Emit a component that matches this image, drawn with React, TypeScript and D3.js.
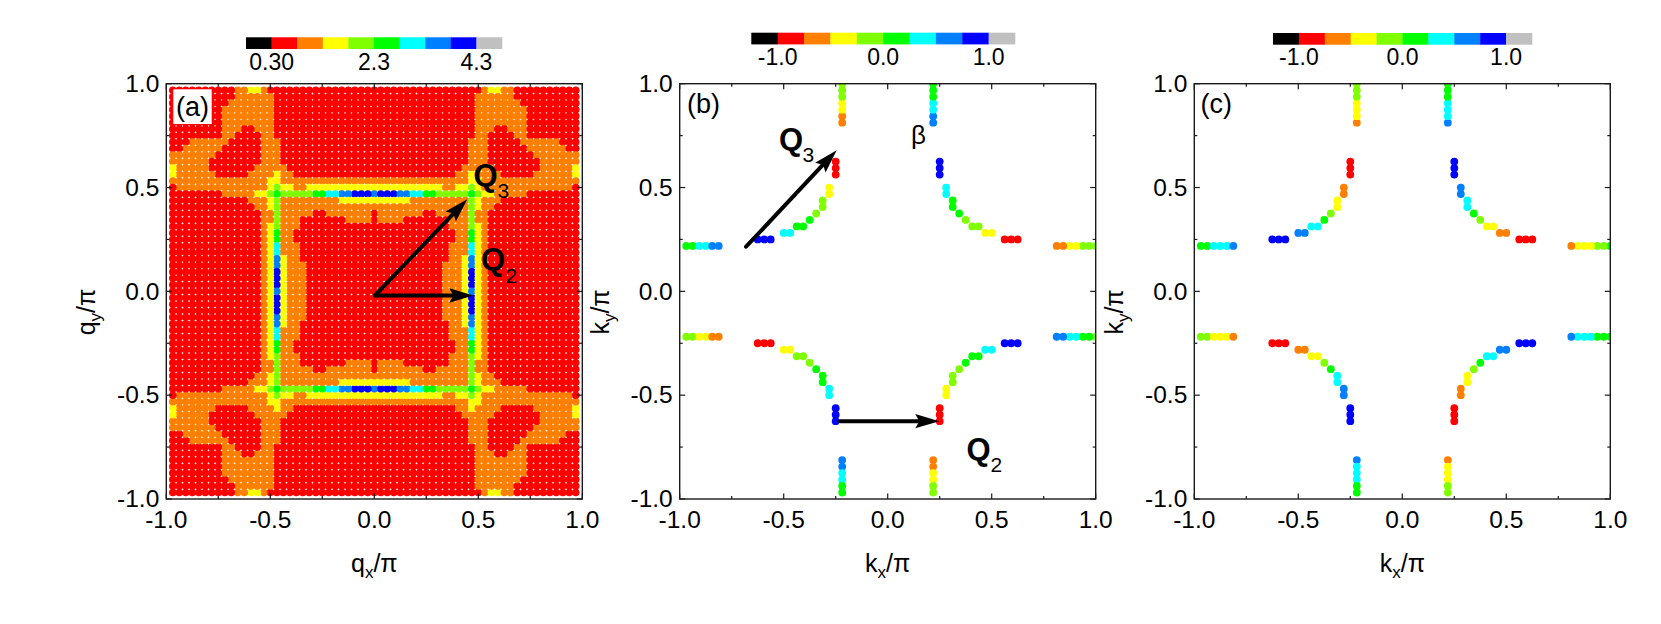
import React from "react";
import * as d3 from "d3";

// ---------- data ----------
const levelColors: Record<string, string> = {
  K: "#000000", R: "#ff0000", O: "#ff8000", Y: "#ffff00", L: "#80ff00",
  G: "#00ff00", C: "#00ffff", A: "#0080ff", B: "#0000ff", S: "#c0c0c0",
};
const colorbarLevels = ["K", "R", "O", "Y", "L", "G", "C", "A", "B", "S"];
const latticeStep = 32;

// Panel (a): quadrant q_y row from index 31 down to 0, each run = level + count along q_x index 0..31.
const susceptibilityRows = [
  "R17 O1 Y2 O2 R10",
  "R16 O6 R10",
  "R16 O7 R9",
  "R16 O8 R8",
  "R16 O8 R8",
  "R16 O8 R8",
  "R16 O3 R2 O3 R8",
  "R16 O2 R4 O2 R8",
  "R15 O3 R5 O6 R3",
  "R15 O3 R6 O6 R2",
  "R15 O3 R7 O7",
  "R15 O3 R8 O6",
  "R14 O5 R7 O5 Y1",
  "R13 O2 Y1 O4 R5 O6 Y1",
  "O15 Y2 O15",
  "Y11 O2 Y2 L1 Y1 O14 R1",
  "A1 B3 A2 C2 G2 L5 G1 L1 Y2 O5 R8",
  "Y6 O9 L1 Y1 O3 R12",
  "O15 L1 Y1 O2 R13",
  "R1 O7 R2 O5 L1 O2 R14",
  "R1 O4 R7 O3 L1 O2 R14",
  "R12 O3 L1 Y1 O1 R14",
  "R13 O2 G1 Y1 O1 R14",
  "R13 O2 G1 Y1 O1 R14",
  "R12 O3 C1 Y1 O1 R14",
  "R12 O3 C1 Y1 O1 R14",
  "R12 O2 Y1 A1 Y1 O1 R14",
  "R11 O3 Y1 A1 Y1 O1 R14",
  "R11 O3 Y1 B1 Y1 O1 R14",
  "R11 O3 Y1 B1 Y1 O1 R14",
  "R11 O3 Y1 B1 Y1 O1 R14",
  "R11 O3 Y1 A1 Y1 O1 R14",
];

// Fermi-surface lattice indices of one quadrant (|kx|, |ky|)
const fermiKx = [32,31,30,29,28,27,26,20,19,18,16,15,14,13,12,11,10,10,9,9,8,8,8,7,7,7,7,7,7,7];
const fermiKy = [7,7,7,7,7,7,7,8,8,8,9,9,10,10,11,12,13,14,15,16,18,19,20,26,27,28,29,30,31,32];

// Level of each point, by quadrant ("-" = no point)
const panelBUpperRight = "LLLYYOORRRYYLLLGGGCCBBBAACCGGG";
const panelBUpperLeft  = "-GGCCAABBBCCGGGLLLYYRRROOYYLLL";
const panelBLowerLeft  = "-LLYYOORRRYYLLLGGGCCBBBAACCGG-";
const panelBLowerRight = "LGGCCAABBBCCGGGLLLYYRRROOYYLL-";
const panelCUpperRight = "GLLYYYORRROOYYLGCCAABBBACCCGGG";
const panelCUpperLeft  = "-GGCCCABBBAACCGLYYOORRROYYYLLL";
const panelCLowerLeft  = "-LLYYYORRROOYYLGCCAABBBACCCGG-";
const panelCLowerRight = "GGGCCCABBBAACCGLYYOORRROYYYLL-";

const tickLabels = ["-1.0", "-0.5", "0.0", "0.5", "1.0"];
const majorTicks = [-1, -0.5, 0, 0.5, 1];
const minorTicks = [-0.75, -0.25, 0.25, 0.75];

const barLabelsA = ["0.30", "2.3", "4.3"];
const barLabelsBC = ["-1.0", "0.0", "1.0"];

const arrowsA = [
  { x0: 0.003, y0: -0.02, x1: 0.447, y1: 0.444 },
  { x0: 0.003, y0: -0.02, x1: 0.476, y1: -0.02 },
];
const arrowsB = [
  { x0: -0.681, y0: 0.215, x1: -0.245, y1: 0.68 },
  { x0: -0.229, y0: -0.625, x1: 0.248, y1: -0.625 },
];

// ---------- layout ----------
const FONT = "'Liberation Sans', Arial, sans-serif";
const TOP = 83.7, BOTTOM = 499;
const W = 416;
const panelLefts = [166.3, 679.7, 1194.3];

const y = d3.scaleLinear().domain([-1, 1]).range([BOTTOM, TOP]);
const xScale = (left: number) => d3.scaleLinear().domain([-1, 1]).range([left, left + W]);

function decodeRow(row: string): string[] {
  const out: string[] = [];
  row.split(" ").forEach((run) => {
    const n = +run.slice(1);
    for (let i = 0; i < n; i++) out.push(run[0]);
  });
  return out;
}

function Frame({ left, xLabel, yLabel }: any) {
  const x = xScale(left);
  const stroke = "#1a1a1a";
  const lines: React.ReactNode[] = [];
  const add = (t: number, len: number, key: string) => {
    lines.push(
      <line key={"b" + key} x1={x(t)} x2={x(t)} y1={BOTTOM} y2={BOTTOM - len} />,
      <line key={"t" + key} x1={x(t)} x2={x(t)} y1={TOP} y2={TOP + len} />,
      <line key={"l" + key} y1={y(t)} y2={y(t)} x1={x(-1)} x2={x(-1) + len} />,
      <line key={"r" + key} y1={y(t)} y2={y(t)} x1={x(1)} x2={x(1) - len} />
    );
  };
  majorTicks.forEach((t) => add(t, 5.5, "M" + t));
  minorTicks.forEach((t) => add(t, 3, "m" + t));
  const midX = x(0);
  return (
    <g fontFamily={FONT} fill="#000">
      <g stroke={stroke} strokeWidth={1.2}>{lines}</g>
      <rect x={x(-1)} y={TOP} width={W} height={BOTTOM - TOP} fill="none" stroke={stroke} strokeWidth={1.4} />
      {majorTicks.map((t, i) => (
        <text key={"xl" + t} x={x(t)} y={527.5} textAnchor="middle" fontSize={24.5}>{tickLabels[i]}</text>
      ))}
      {majorTicks.map((t, i) => (
        <text key={"yl" + t} x={x(-1) - 7} y={y(t) + 8.3} textAnchor="end" fontSize={24.5}>{tickLabels[i]}</text>
      ))}
      <text x={midX} y={572} textAnchor="middle" fontSize={25}>
        {xLabel}<tspan fontSize={17} dy={6}>x</tspan><tspan dy={-6}>/π</tspan>
      </text>
      <text transform={`translate(${left - 71},312) rotate(-90)`} textAnchor="middle" fontSize={25}>
        {yLabel}<tspan fontSize={17} dy={6}>y</tspan><tspan dy={-6}>/π</tspan>
      </text>
    </g>
  );
}

function Colorbar({ left, top, width, labels, baseline }: any) {
  const cell = width / colorbarLevels.length;
  const sc = d3.scaleBand<string>().domain(colorbarLevels).range([left, left + width]);
  return (
    <g fontFamily={FONT}>
      {colorbarLevels.map((l) => (
        <rect key={l} x={sc(l)} y={top} width={cell + 0.3} height={11.7} fill={levelColors[l]} />
      ))}
      {labels.map((t: string, i: number) => (
        <text key={t} x={left + cell * [1, 5, 9][i]} y={baseline} textAnchor="middle" fontSize={23}>{t}</text>
      ))}
    </g>
  );
}

function Arrow({ x, a }: any) {
  const X0 = x(a.x0), Y0 = y(a.y0), X1 = x(a.x1), Y1 = y(a.y1);
  const ang = Math.atan2(Y1 - Y0, X1 - X0);
  const L = 24, H = 7.2, N = 20;
  const px = (d: number, s: number): [number, number] => [
    X1 - d * Math.cos(ang) - s * Math.sin(ang),
    Y1 - d * Math.sin(ang) + s * Math.cos(ang),
  ];
  const head = [px(0, 0), px(L, H), px(N, 0), px(L, -H)];
  return (
    <g>
      <line x1={X0} y1={Y0} x2={px(N, 0)[0]} y2={px(N, 0)[1]} stroke="#000" strokeWidth={4} strokeLinecap="round" />
      <polygon points={head.map((p) => p.join(",")).join(" ")} fill="#000" />
    </g>
  );
}

function QLabel({ x, base, sub, subX, subBase }: any) {
  return (
    <g fontFamily={FONT}>
      <text x={x} y={base} fontSize={31} fontWeight="bold">Q</text>
      <text x={subX} y={subBase} fontSize={21}>{sub}</text>
    </g>
  );
}

function Fermi({ left, quads, clip }: any) {
  const x = xScale(left);
  const pts: { key: string; cx: number; cy: number; fill: string }[] = [];
  quads.forEach(([code, sx, sy]: [string, number, number]) => {
    fermiKx.forEach((kx, n) => {
      const lv = code[n];
      if (lv === "-") return;
      pts.push({
        key: `${sx}${sy}${n}`,
        cx: x((sx * kx) / latticeStep),
        cy: y((sy * fermiKy[n]) / latticeStep),
        fill: levelColors[lv],
      });
    });
  });
  return (
    <g clipPath={`url(#${clip})`}>
      {pts.map((p) => <circle key={p.key} cx={p.cx} cy={p.cy} r={3.9} fill={p.fill} />)}
    </g>
  );
}

export default function App() {
  const xa = xScale(panelLefts[0]);
  const xb = xScale(panelLefts[1]);
  const rows = susceptibilityRows.map(decodeRow);
  const cells: { key: string; cx: number; cy: number; fill: string }[] = [];
  rows.forEach((row, r) => {
    const j = 31 - r;
    row.forEach((lv, i) => {
      [-1, 1].forEach((sx) => {
        [-1, 1].forEach((sy) => {
          if ((sx < 0 && i === 0) || (sy < 0 && j === 0)) return;
          cells.push({
            key: `${sx}${sy}${i}${j}`,
            cx: xa((sx * i) / latticeStep),
            cy: y((sy * j) / latticeStep),
            fill: levelColors[lv],
          });
        });
      });
    });
  });
  return (
    <svg width={1661} height={624} style={{ position: "absolute", left: 0, top: 0, background: "#fff" }}>
      <defs>
        {panelLefts.map((l, i) => (
          <clipPath id={"clip" + i} key={i}><rect x={l} y={TOP} width={W} height={BOTTOM - TOP} /></clipPath>
        ))}
      </defs>

      {/* panel a */}
      <g>{cells.map((c) => <circle key={c.key} cx={c.cx} cy={c.cy} r={3.8} fill={c.fill} />)}</g>
      <Frame left={panelLefts[0]} xLabel="q" yLabel="q" />
      <Colorbar left={246} top={37.3} width={256} labels={barLabelsA} baseline={70} />
      <rect x={173.3} y={89.3} width={38.4} height={34.7} fill="#fff" />
      <text x={192.5} y={115.5} textAnchor="middle" fontFamily={FONT} fontSize={27}>(a)</text>
      {arrowsA.map((a, i) => <Arrow key={i} x={xa} a={a} />)}
      <QLabel x={473.5} base={186} sub="3" subX={497.5} subBase={197.7} />
      <QLabel x={481} base={270} sub="2" subX={505.5} subBase={282.7} />

      {/* panel b */}
      <Fermi left={panelLefts[1]} clip="clip1" quads={[
        [panelBUpperRight, 1, 1], [panelBUpperLeft, -1, 1], [panelBLowerLeft, -1, -1], [panelBLowerRight, 1, -1],
      ]} />
      <Frame left={panelLefts[1]} xLabel="k" yLabel="k" />
      <Colorbar left={751.3} top={32.7} width={263.7} labels={barLabelsBC} baseline={65} />
      <text x={687} y={113} fontFamily={FONT} fontSize={27}>(b)</text>
      {arrowsB.map((a, i) => <Arrow key={i} x={xb} a={a} />)}
      <QLabel x={779} base={150} sub="3" subX={802.5} subBase={162.3} />
      <QLabel x={966.5} base={460} sub="2" subX={990.5} subBase={471.7} />
      <text x={911} y={144} fontFamily={FONT} fontSize={26}>β</text>

      {/* panel c */}
      <Fermi left={panelLefts[2]} clip="clip2" quads={[
        [panelCUpperRight, 1, 1], [panelCUpperLeft, -1, 1], [panelCLowerLeft, -1, -1], [panelCLowerRight, 1, -1],
      ]} />
      <Frame left={panelLefts[2]} xLabel="k" yLabel="k" />
      <Colorbar left={1273} top={33} width={259} labels={barLabelsBC} baseline={65} />
      <text x={1200.5} y={113} fontFamily={FONT} fontSize={27}>(c)</text>
    </svg>
  );
}
